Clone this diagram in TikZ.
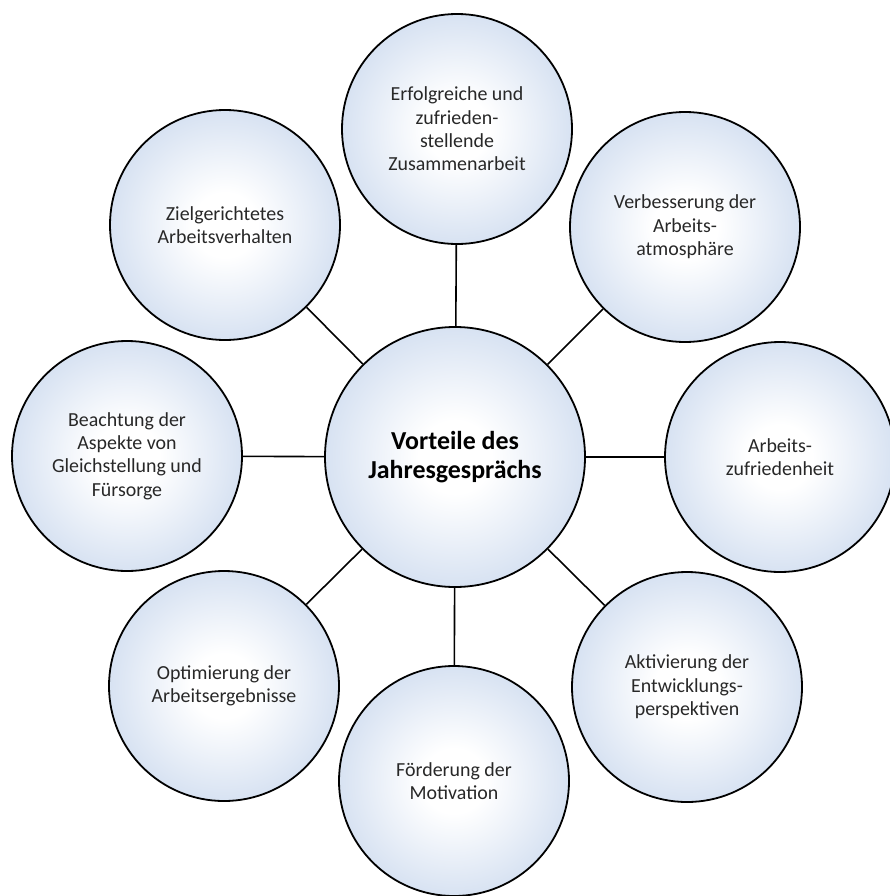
\documentclass[tikz,border=0pt]{standalone}
\usepackage{fontspec}
\setmainfont{Carlito}
\definecolor{bubbleedge}{RGB}{150,179,218}
\definecolor{bubblemid}{RGB}{200,215,237}
\definecolor{bubbletext}{RGB}{40,40,40}
\pgfdeclareradialshading{bubble}{\pgfpoint{0bp}{0bp}}{%
  color(0bp)=(white); color(7bp)=(white); color(32bp)=(bubblemid);
  color(50bp)=(bubbleedge)}
\tikzset{
  bubble/.style={circle, draw=black, line width=1.8pt, shading=bubble,
    minimum size=230bp, inner sep=0pt, align=center, text=bubbletext,
    font=\fontsize{20}{23.5}\selectfont},
  hub/.style={bubble, minimum size=260bp, text=black,
    font=\fontsize{26}{28.5}\selectfont\bfseries},
  spoke/.style={line width=1.6pt, draw=black}
}
\begin{document}
\begin{tikzpicture}[x=1bp,y=-1bp]
  \useasboundingbox (0,0) rectangle (890,896);
  % centre and eight surrounding benefits
  \node[hub] (hub) at (455,457) {Vorteile des\\Jahresgesprächs};
  \node[bubble] (n) at (457,129) {Erfolgreiche und\\zufrieden-\\stellende\\Zusammenarbeit};
  \node[bubble] (ne) at (685,227) {Verbesserung der\\Arbeits-\\atmosphäre};
  \node[bubble] (e) at (780,457) {Arbeits-\\zufriedenheit};
  \node[bubble] (se) at (687,687) {Aktivierung der\\Entwicklungs-\\perspektiven};
  \node[bubble] (s) at (454,781) {Förderung der\\Motivation};
  \node[bubble] (sw) at (224,686) {Optimierung der\\Arbeitsergebnisse};
  \node[bubble] (w) at (127,456) {Beachtung der\\Aspekte von\\Gleichstellung und\\Fürsorge};
  \node[bubble] (nw) at (225,225) {Zielgerichtetes\\Arbeitsverhalten};
  % spokes
  \foreach \o in {n,ne,e,se,s,sw,w,nw}
    \draw[spoke] (hub) -- (\o);
\end{tikzpicture}
\end{document}
